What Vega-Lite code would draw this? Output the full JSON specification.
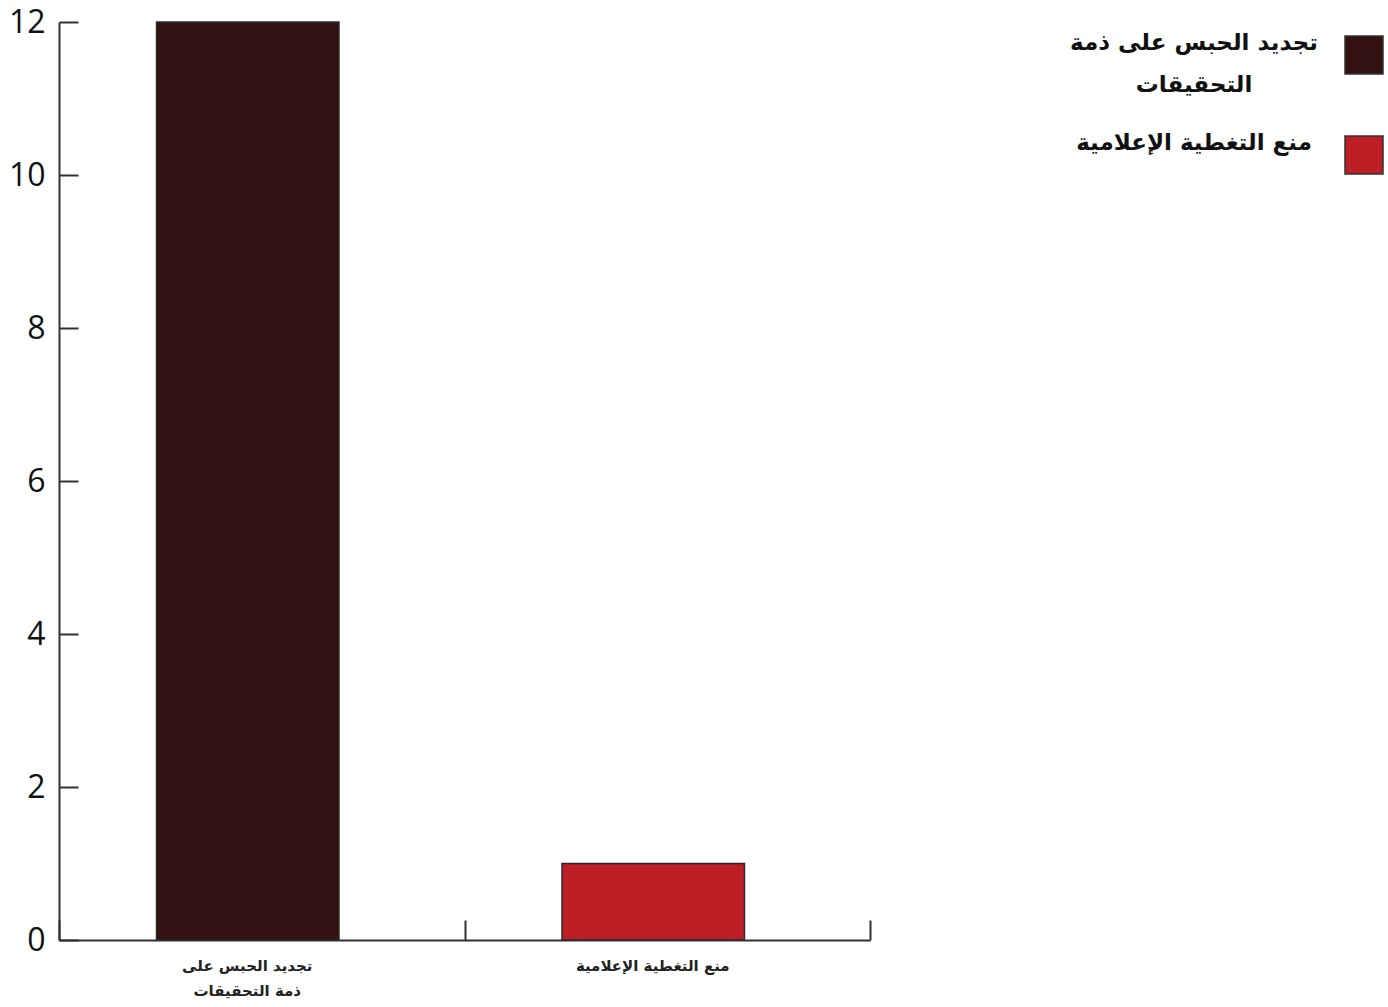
{
  "$schema": "https://vega.github.io/schema/vega-lite/v6.json",
  "autosize": "none",
  "width": 811,
  "height": 918,
  "padding": {"left": 59, "top": 22, "right": 518, "bottom": 67},
  "background": "white",
  "config": {"view": {"stroke": null}, "style": {"guide-label": {"lineHeight": 42}}},
  "data": {"values": [
    {"category": "تجديد الحبس على ذمة التحقيقات", "value": 12},
    {"category": "منع التغطية الإعلامية", "value": 1}
  ]},
  "mark": {"type": "bar", "width": {"band": 0.45}, "xOffset": -14, "stroke": "#2b2b2b", "strokeWidth": 1.5},
  "encoding": {
    "x": {
      "field": "category", "type": "nominal", "sort": null,
      "scale": {"paddingInner": 0, "paddingOuter": 0},
      "axis": {
        "title": null, "labelAngle": 0, "tickBand": "extent",
        "tickSize": -20, "tickWidth": 2, "tickColor": "#333",
        "domainColor": "#333", "domainWidth": 2,
        "labelFont": "DejaVu Sans", "labelFontSize": 15, "labelFontWeight": "bold", "labelColor": "#222",
        "labelPadding": 38, "labelLineHeight": 25, "labelBaseline": "top", "labelOffset": -15,
        "labelExpr": "datum.label == 'تجديد الحبس على ذمة التحقيقات' ? ['تجديد  الحبس  على', 'ذمة التحقيقات'] : datum.label"
      }
    },
    "y": {
      "field": "value", "type": "quantitative",
      "scale": {"domain": [0, 12], "nice": false},
      "axis": {
        "title": null, "grid": false, "values": [0, 2, 4, 6, 8, 10, 12],
        "tickSize": -19, "tickWidth": 2, "tickColor": "#333",
        "domainColor": "#333", "domainWidth": 2,
        "labelFont": "Open Sans", "labelFontSize": 32, "labelColor": "#111",
        "labelPadding": 33, "labelLineHeight": 32
      }
    },
    "color": {
      "field": "category", "type": "nominal", "sort": null,
      "scale": {"range": ["#331111", "#be1e25"]},
      "legend": {
        "title": null, "orient": "none", "legendX": 1285, "legendY": 13,
        "padding": 0, "symbolType": "square", "symbolSize": 1444,
        "symbolStrokeColor": "#333", "symbolStrokeWidth": 1.5,
        "labelFont": "DejaVu Sans", "labelFontSize": 23, "labelFontWeight": "bold", "labelColor": "#111",
        "labelAlign": "center", "labelOffset": -190, "labelLimit": 400, "labelBaseline": "bottom",
        "rowPadding": 35,
        "labelExpr": "datum.label == 'تجديد الحبس على ذمة التحقيقات' ? ['تجديد الحبس على ذمة', 'التحقيقات'] : datum.label"
      }
    }
  }
}
